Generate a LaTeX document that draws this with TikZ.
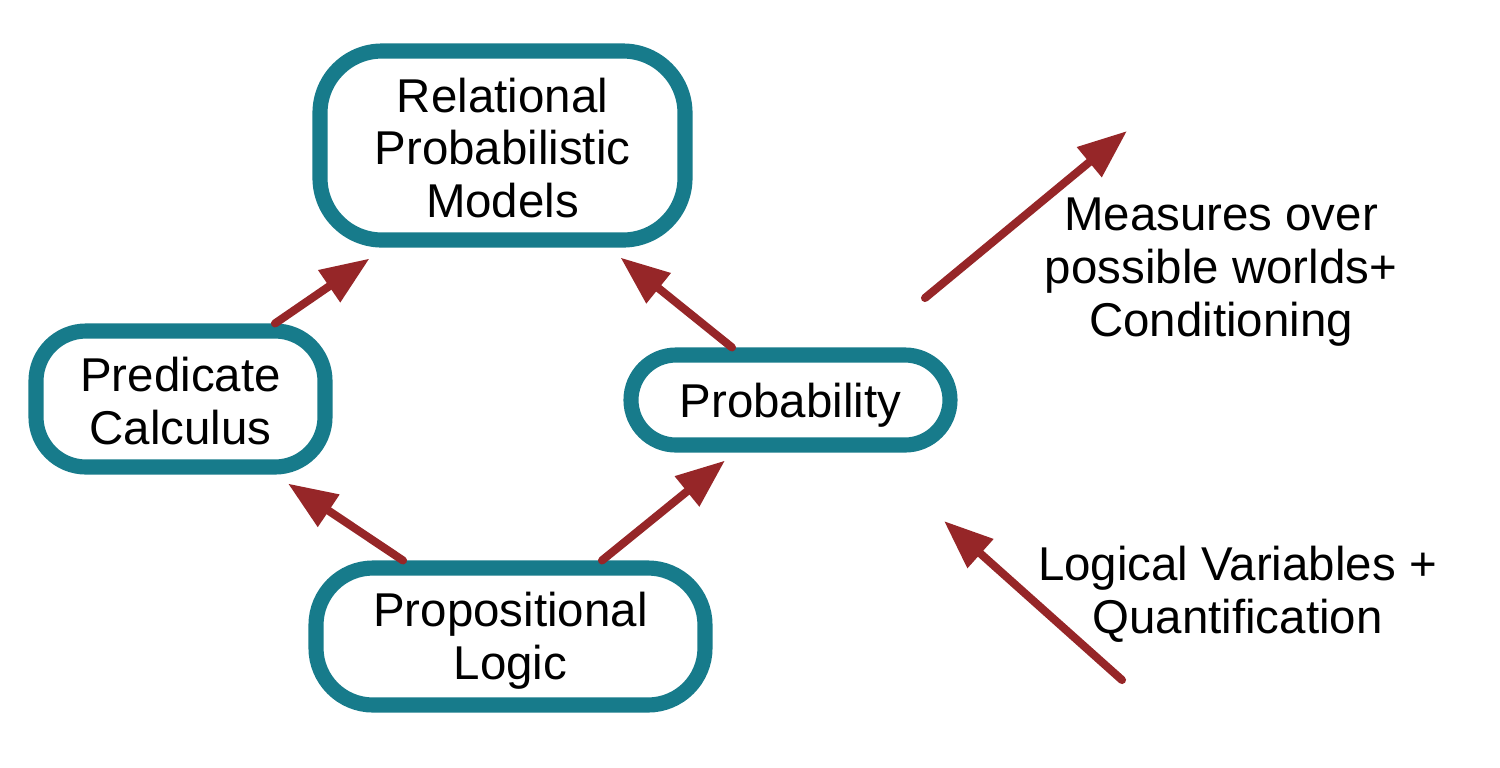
\documentclass[tikz,border=0pt]{standalone}
\usepackage{fontspec}
\setmainfont{Liberation Sans}
\usetikzlibrary{arrows.meta,calc}
\definecolor{teal}{RGB}{23,123,139}
\definecolor{darkred}{RGB}{150,38,40}
\newcommand\tstrut[1]{\rule{0pt}{#1}}
\begin{document}
\begin{tikzpicture}[
  every node/.style={font=\fontsize{13.5}{15}\selectfont, align=center, inner sep=0pt},
  topic/.style={draw=teal, line width=4.3pt, fill=white},
  link/.style={draw=darkred, line width=2.3pt, line cap=round,
    -{Triangle[length=4.9mm,width=3.7mm]}},
]
\useasboundingbox (0,0) rectangle (15,-7.67);
\node[topic, rounded corners=0.62cm, minimum width=3.65cm, minimum height=1.89cm] (rel) at (5.025,-1.455) {\tstrut{11.2pt}Relational\\Probabilistic\\Models};
\node[topic, rounded corners=0.5cm, minimum width=2.89cm, minimum height=1.36cm] (pred) at (1.805,-3.99) {\tstrut{10.9pt}Predicate\\Calculus};
\node[topic, rounded corners=0.45cm, minimum width=3.19cm, minimum height=0.90cm] (prob) at (7.905,-4.00) {\tstrut{12.6pt}Probability};
\node[topic, rounded corners=0.57cm, minimum width=3.89cm, minimum height=1.37cm] (prop) at (5.105,-6.365) {\tstrut{12.1pt}Propositional\\Logic};

\node (measures) at (12.21,-2.72) {Measures over\\possible worlds+\\Conditioning};
\node (logvars) at (12.375,-5.94) {Logical Variables +\\Quantification};

\coordinate (m1) at (9.25,-2.98);
\coordinate (m2) at (11.27,-1.31);
\coordinate (q1) at (11.22,-6.80);
\coordinate (q2) at (9.44,-5.21);

\draw[link] ($(pred.north)+(0.945,0)$) -- ($(rel.south)+(-1.33,-0.11)$);
\draw[link] ($(prob.north)+(-0.585,0)$) -- ($(rel.south)+(1.18,-0.10)$);
\draw[link] ($(prop.north)+(-1.075,0)$) -- ($(pred.south)+(1.075,-0.09)$);
\draw[link] ($(prop.north)+(0.915,0)$) -- ($(prob.south)+(-0.655,-0.08)$);
\draw[link] (m1) -- (m2);
\draw[link] (q1) -- (q2);
\end{tikzpicture}
\end{document}
